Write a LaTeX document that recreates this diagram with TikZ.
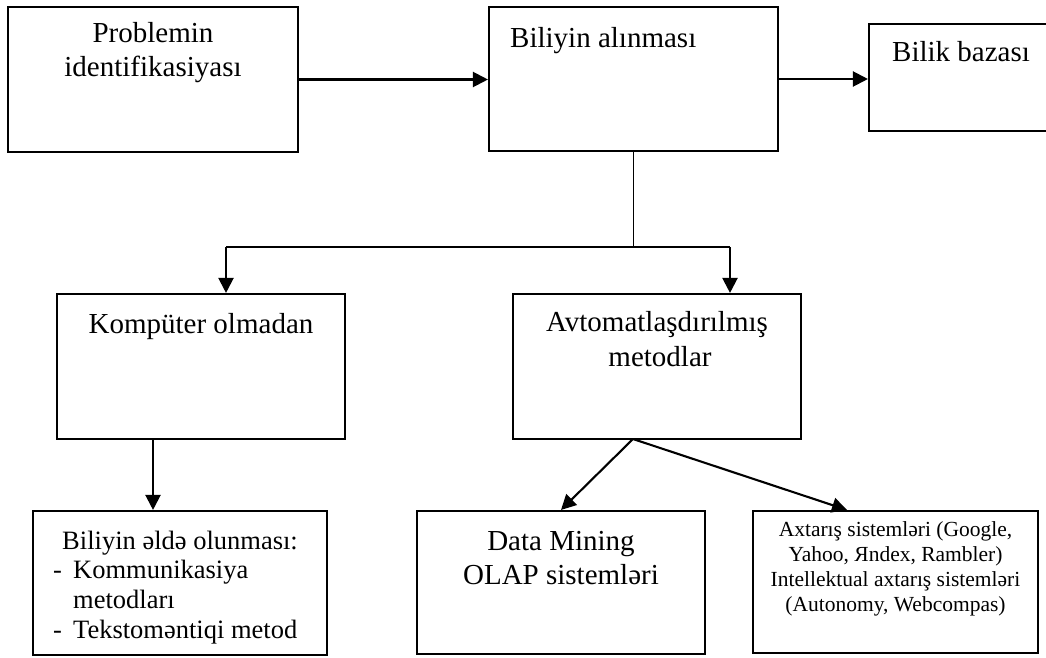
\documentclass[tikz,border=0pt]{standalone}
\usepackage{fontspec}
\setmainfont{Liberation Serif}
\usetikzlibrary{arrows.meta,calc}
\begin{document}
\begin{tikzpicture}[x=1pt,y=-1pt,
  box/.style={draw, line width=2.1pt, inner sep=0pt},
  arr/.style={line width=2.1pt, -{Triangle[length=15pt,width=15pt]}},
  ln/.style={line width=1.9pt},
  big/.style={inner sep=0pt, font=\fontsize{29}{35}\selectfont},
  mid/.style={inner sep=0pt, font=\fontsize{26.5}{31}\selectfont},
  sml/.style={inner sep=0pt, align=center, font=\fontsize{21.5}{25}\selectfont}]
\useasboundingbox (0,0) rectangle (1046,658);
\clip (0,0) rectangle (1046,658);
% boxes
\node[box, minimum width=290pt, minimum height=145pt] (b1) at (153,79.5) {};
\node[box, minimum width=289pt, minimum height=144pt] (b2) at (633.5,79) {};
\node[box, minimum width=191pt, minimum height=107pt] (bb) at (964.5,77.5) {};
\node[box, minimum width=288pt, minimum height=145pt] (komp) at (201,366.5) {};
\node[box, minimum width=288pt, minimum height=145pt] (avt) at (657,366.5) {};
\node[box, minimum width=294pt, minimum height=144pt] (bl) at (180,583) {};
\node[box, minimum width=288pt, minimum height=143pt] (dm) at (561,582.5) {};
\node[box, minimum width=285pt, minimum height=142pt] (rb) at (895.5,582) {};
% texts
\node[big, anchor=base] (t1a) at (153,43) {Problemin};
\node[big, anchor=base] (t1b) at (153,77) {identifikasiyası};
\node[big, anchor=base west] (t2) at (510,48) {Biliyin alınması};
\node[big, anchor=base west] (t3) at (892,62) {Bilik bazası};
\node[big, anchor=base] (t4) at (201,333) {Kompüter olmadan};
\node[big, anchor=base] (t5a) at (657,331) {Avtomatlaşdırılmış};
\node[big, anchor=base] (t5b) at (660,366) {metodlar};
\node[mid, anchor=base] (t6a) at (180,549) {Biliyin əldə olunması:};
\node[mid, anchor=base west] (t6b) at (53,578) {\makebox[20pt][l]{-}Kommunikasiya};
\node[mid, anchor=base west] (t6c) at (73,608) {metodları};
\node[mid, anchor=base west] (t6d) at (53,638) {\makebox[20pt][l]{-}Tekstomәntiqi metod};
\node[big, anchor=base] (t7a) at (561,550) {Data Mining};
\node[big, anchor=base] (t7b) at (561,584) {OLAP sistemləri};
\node[sml, anchor=base] (t8a) at (895.5,536) {Axtarış sistemləri (Google,};
\node[sml, anchor=base] (t8b) at (895.5,561) {Yahoo, Яndex, Rambler)};
\node[sml, anchor=base] (t8c) at (895.5,586) {Intellektual axtarış sistemləri};
\node[sml, anchor=base] (t8d) at (895.5,611) {(Autonomy, Webcompas)};
% connectors
\coordinate (j) at (633.5,247);
\coordinate (jl) at (226,247);
\coordinate (jr) at (730,247);
\coordinate (ds) at (633,439);
\draw[arr] (b1.east) -- (b1.east -| b2.west);
\draw[arr] (b2.east) -- (b2.east -| bb.west);
\draw[ln] (b2.south) -- (j);
\draw[ln] (jl) -- (jr);
\draw[arr] (jl) -- (jl |- komp.north);
\draw[arr] (jr) -- (jr |- avt.north);
\draw[arr] ($(komp.south)+(-48,0)$) -- ($(bl.north)+(-27,0)$);
\draw[arr] (ds) -- (dm.north);
\draw[arr] (ds) -- ($(rb.north)+(-48.5,0)$);
\end{tikzpicture}
\end{document}
